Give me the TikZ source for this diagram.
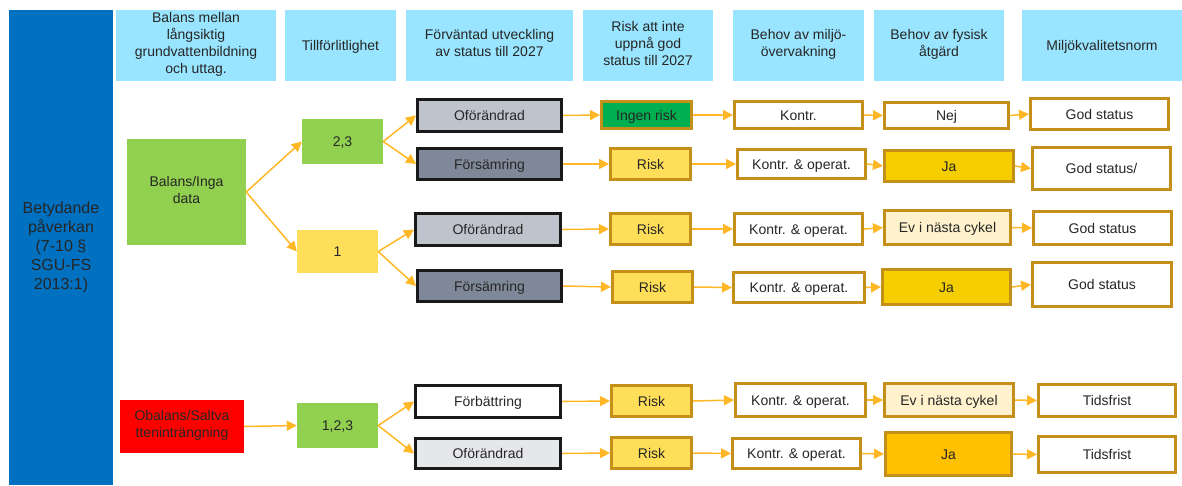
\documentclass[tikz,border=0pt]{standalone}
\usepackage{fontspec}
\setmainfont{Liberation Sans}
\usetikzlibrary{arrows.meta}
\usepackage{xcolor}
\definecolor{barblue}{HTML}{0070C0}
\definecolor{hdrcyan}{HTML}{99E4FF}
\definecolor{lgreen}{HTML}{92D050}
\definecolor{lyellow}{HTML}{FFDF5A}
\definecolor{dgreen}{HTML}{00B050}
\definecolor{gold}{HTML}{C4901A}
\definecolor{arrorange}{HTML}{FFB726}
\definecolor{grayA}{HTML}{BFC3CC}
\definecolor{grayB}{HTML}{7F8898}
\definecolor{grayC}{HTML}{E6E7EB}
\definecolor{jaA}{HTML}{F5CE00}
\definecolor{jaB}{HTML}{FFC000}
\definecolor{evfill}{HTML}{FFF2CC}
\definecolor{txt}{HTML}{262626}
% struts that centre the caps in a box
\newcommand{\capup}{\rule{0pt}{14.5pt}}
\newcommand{\capdn}{\rule[-4.5pt]{0pt}{4.5pt}}

\begin{document}
\begin{tikzpicture}[
  x=1pt, y=-1pt,
  font=\fontsize{14}{17}\selectfont, text=txt,
  gen/.style={inner sep=0pt, align=center,
              execute at begin node=\capup, execute at end node=\capdn},
  hdr/.style={gen, fill=hdrcyan, minimum height=71pt},
  src/.style={gen},
  dev/.style={gen, draw=black!90, line width=3pt},
  rsk/.style={gen, draw=gold, line width=3pt, fill=lyellow, minimum width=80pt},
  res/.style={gen, draw=gold, line width=3pt, fill=white},
  arr/.style={-{Triangle[length=10pt,width=10pt]}, draw=arrorange, line width=1.5pt}
]
\useasboundingbox (0,0) rectangle (1182,485);
\node[inner sep=0pt, align=center, fill=barblue, minimum width=104pt, minimum height=475pt,
      font=\fontsize{16}{19}\selectfont] (bar) at (61,247.5)
  {Betydande\\påverkan\\(7-10 §\\SGU-FS\\2013:1)};
% headers
\node[hdr, minimum width=160pt] (h1) at (196,45.5) {Balans mellan\\långsiktig\\grundvattenbildning\\och uttag.};
\node[hdr, minimum width=111pt] (h2) at (340.5,45.5) {Tillförlitlighet};
\node[hdr, minimum width=167pt] (h3) at (489.5,45.5) {Förväntad utveckling\\av status till 2027};
\node[hdr, minimum width=130pt] (h4) at (648,45.5) {Risk att inte\\uppnå god\\status till 2027};
\node[hdr, minimum width=131pt] (h5) at (798.5,45.5) {Behov av miljö-\\övervakning};
\node[hdr, minimum width=130pt] (h6) at (939,45.5) {Behov av fysisk\\åtgärd};
\node[hdr, minimum width=160pt] (h7) at (1102,45.5) {Miljökvalitetsnorm};
% balans
\node[src, fill=lgreen, minimum width=119pt, minimum height=106pt] (bal) at (186.5,192) {Balans/Inga\\data};
\node[src, fill=red, minimum width=124pt, minimum height=53pt] (obal) at (182,426.5) {Obalans/Saltva\\tteninträngning};
% tillforlitlighet
\node[src, fill=lgreen, minimum width=81pt, minimum height=45pt] (r23) at (342.5,141.5) {2,3};
\node[src, fill=lyellow, minimum width=81pt, minimum height=43pt] (r1) at (337.5,251.5) {1};
\node[src, fill=lgreen, minimum width=81pt, minimum height=45pt] (r123) at (337.5,425.5) {1,2,3};
% utveckling
\node[dev, fill=grayA, minimum width=144pt, minimum height=32pt] (u1) at (489.5,115.5) {Oförändrad};
\node[dev, fill=grayB, minimum width=144pt, minimum height=31pt] (u2) at (489.5,164) {Försämring};
\node[dev, fill=grayA, minimum width=145pt, minimum height=32pt] (u3) at (488,229.5) {Oförändrad};
\node[dev, fill=grayB, minimum width=144pt, minimum height=31pt] (u4) at (489.5,286) {Försämring};
\node[dev, fill=white, minimum width=145pt, minimum height=32pt] (u5) at (488,401.5) {Förbättring};
\node[dev, fill=grayC, minimum width=145pt, minimum height=30pt] (u6) at (488,453.5) {Oförändrad};
% risk
\node[rsk, fill=dgreen, minimum width=90pt, minimum height=27pt] (k1) at (646.5,115) {Ingen risk};
\node[rsk, minimum height=31pt] (k2) at (650.5,164) {Risk};
\node[rsk, minimum height=31pt] (k3) at (650.5,229) {Risk};
\node[rsk, minimum height=31pt] (k4) at (652.5,287) {Risk};
\node[rsk, minimum height=31pt] (k5) at (651.5,401) {Risk};
\node[rsk, minimum height=31pt] (k6) at (651.5,453) {Risk};
% overvakning
\node[res, minimum width=128pt, minimum height=27pt] (m1) at (798.5,115) {Kontr.};
\node[res, minimum width=128pt, minimum height=29pt] (m2) at (801.5,164) {Kontr. \& operat.};
\node[res, minimum width=128pt, minimum height=31pt] (m3) at (798.5,229) {Kontr. \& operat.};
\node[res, minimum width=131pt, minimum height=30pt] (m4) at (799,287.5) {Kontr. \& operat.};
\node[res, minimum width=130pt, minimum height=33pt] (m5) at (800.5,400) {Kontr. \& operat.};
\node[res, minimum width=128pt, minimum height=30pt] (m6) at (796.5,453.5) {Kontr. \& operat.};
% atgard
\node[res, minimum width=124pt, minimum height=26pt] (a1) at (946.5,115.5) {Nej};
\node[res, fill=jaA, minimum width=129pt, minimum height=31pt] (a2) at (949,166) {Ja};
\node[res, fill=evfill, minimum width=126pt, minimum height=34pt] (a3) at (947.5,227.5) {Ev i nästa cykel};
\node[res, fill=jaA, minimum width=128pt, minimum height=35pt] (a4) at (946.5,287) {Ja};
\node[res, fill=evfill, minimum width=129pt, minimum height=33pt] (a5) at (949,400) {Ev i nästa cykel};
\node[res, fill=jaB, minimum width=126pt, minimum height=43pt] (a6) at (948.5,454) {Ja};
% norm
\node[res, minimum width=138pt, minimum height=31pt] (n1) at (1099.5,114) {God status};
\node[res, minimum width=138pt, minimum height=42pt] (n2) at (1101.5,168.5) {God status/};
\node[res, minimum width=138pt, minimum height=33pt] (n3) at (1102.5,228) {God status};
\node[res, minimum width=139pt, minimum height=44pt] (n4) at (1102,284.5) {God status};
\node[res, minimum width=137pt, minimum height=32pt] (n5) at (1107,400.5) {Tidsfrist};
\node[res, minimum width=137pt, minimum height=36pt] (n6) at (1107,454.5) {Tidsfrist};
% branches
\draw[arr] (bal.east) -- (r23.west);
\draw[arr] (bal.east) -- (r1.west);
\draw[arr] (obal.east) -- (r123.west);
\draw[arr] (r23.east) -- (u1.west);
\draw[arr] (r23.east) -- (u2.west);
\draw[arr] (r1.east) -- (u3.west);
\draw[arr] (r1.east) -- (u4.west);
\draw[arr] (r123.east) -- (u5.west);
\draw[arr] (r123.east) -- (u6.west);
% rows
\draw[arr] (u1.east) -- (k1.west);
\draw[arr] (k1.east) -- (m1.west);
\draw[arr] (m1.east) -- (a1.west);
\draw[arr] (a1.east) -- (n1.west);
\draw[arr] (u2.east) -- (k2.west);
\draw[arr] (k2.east) -- (m2.west);
\draw[arr] (m2.east) -- (a2.west);
\draw[arr] (a2.east) -- (n2.west);
\draw[arr] (u3.east) -- (k3.west);
\draw[arr] (k3.east) -- (m3.west);
\draw[arr] (m3.east) -- (a3.west);
\draw[arr] (a3.east) -- (n3.west);
\draw[arr] (u4.east) -- (k4.west);
\draw[arr] (k4.east) -- (m4.west);
\draw[arr] (m4.east) -- (a4.west);
\draw[arr] (a4.east) -- (n4.west);
\draw[arr] (u5.east) -- (k5.west);
\draw[arr] (k5.east) -- (m5.west);
\draw[arr] (m5.east) -- (a5.west);
\draw[arr] (a5.east) -- (n5.west);
\draw[arr] (u6.east) -- (k6.west);
\draw[arr] (k6.east) -- (m6.west);
\draw[arr] (m6.east) -- (a6.west);
\draw[arr] (a6.east) -- (n6.west);
\end{tikzpicture}
\end{document}
